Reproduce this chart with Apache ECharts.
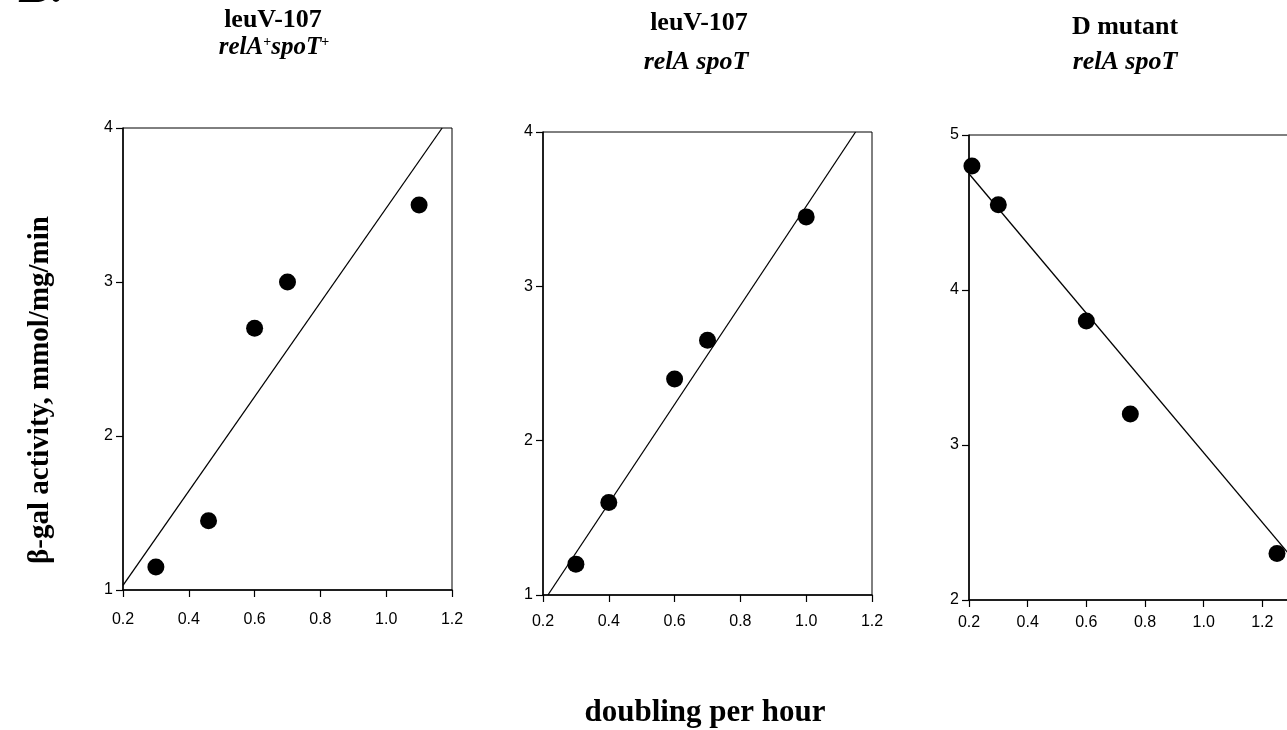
<!DOCTYPE html>
<html>
<head>
<meta charset="utf-8">
<script src="https://cdn.jsdelivr.net/npm/echarts@6/dist/echarts.min.js"></script>
<style>
  html, body { margin: 0; padding: 0; background: #fff; }
  #chart { width: 1287px; height: 730px; }
</style>
</head>
<body>
<div id="chart"></div>
<script>
// Axis ticks (x shared by the first two panels, y per panel)
const xTicks = [0.2, 0.4, 0.6, 0.8, 1.0, 1.2];
const xTicks3 = [0.2, 0.4, 0.6, 0.8, 1.0, 1.2, 1.4];
const yTicks1 = [1, 2, 3, 4];
const yTicks2 = [1, 2, 3, 4];
const yTicks3 = [2, 3, 4, 5];

// Panel 1: leuV-107 relA+ spoT+
const rate1 = [0.30, 0.46, 0.60, 0.70, 1.10];
const gal1 = [1.15, 1.45, 2.70, 3.00, 3.50];
const fitX1 = [0.20, 1.17];
const fitY1 = [1.03, 4.00];

// Panel 2: leuV-107 relA spoT
const rate2 = [0.30, 0.40, 0.60, 0.70, 1.00];
const gal2 = [1.20, 1.60, 2.40, 2.65, 3.45];
const fitX2 = [0.215, 1.15];
const fitY2 = [1.00, 4.00];

// Panel 3: D mutant relA spoT
const rate3 = [0.21, 0.30, 0.60, 0.75, 1.25];
const gal3 = [4.80, 4.55, 3.80, 3.20, 2.30];
const fitX3 = [0.20, 1.40];
const fitY3 = [4.75, 2.05];

const SERIF = '"Liberation Serif", "Times New Roman", serif';
const SANS = '"Liberation Sans", Arial, sans-serif';

const pairs = (xs, ys) => xs.map((x, i) => [x, ys[i]]);

const grids = [
  { left: 123, top: 128, width: 329, height: 462 },
  { left: 543, top: 132, width: 329, height: 463 },
  { left: 969, top: 135, width: 352, height: 465 }
].map(g => Object.assign(g, {
  show: true, borderColor: '#000', borderWidth: 1, backgroundColor: 'transparent',
  containLabel: false, outerBoundsMode: 'none'
}));

function xAxis(idx, ticks, margin) {
  return {
    type: 'value', gridIndex: idx,
    min: ticks[0], max: ticks[ticks.length - 1], interval: 0.2,
    splitLine: { show: false },
    axisLine: { show: true, onZero: false, lineStyle: { color: '#000', width: 1.5 } },
    axisTick: { show: true, length: 7, lineStyle: { color: '#000', width: 1.2 } },
    axisLabel: {
      color: '#000', fontFamily: SANS, fontSize: 16, margin,
      formatter: v => v.toFixed(1)
    }
  };
}

function yAxis(idx, ticks) {
  return {
    type: 'value', gridIndex: idx,
    min: ticks[0], max: ticks[ticks.length - 1], interval: 1,
    splitLine: { show: false },
    axisLine: { show: true, onZero: false, lineStyle: { color: '#000', width: 1.5 } },
    axisTick: { show: true, length: 7, lineStyle: { color: '#000', width: 1.2 } },
    axisLabel: { color: '#000', fontFamily: SANS, fontSize: 16, margin: 10 }
  };
}

function dots(idx, xs, ys) {
  return {
    type: 'scatter', xAxisIndex: idx, yAxisIndex: idx,
    data: pairs(xs, ys), symbol: 'circle', symbolSize: 17, clip: false,
    itemStyle: { color: '#000', opacity: 1 }, silent: true
  };
}

function fit(idx, xs, ys) {
  return {
    type: 'line', xAxisIndex: idx, yAxisIndex: idx,
    data: pairs(xs, ys), showSymbol: false, symbol: 'none', clip: true,
    lineStyle: { color: '#000', width: 1.3 }, silent: true
  };
}

const boldSerif = size => ({ fontFamily: SERIF, fontWeight: 'bold', fontSize: size, fill: '#000' });
const italicRich = size => ({
  i: { fontFamily: SERIF, fontWeight: 'bold', fontStyle: 'italic', fontSize: size, fill: '#000' },
  s: { fontFamily: SERIF, fontWeight: 'bold', fontSize: 14, fill: '#000', verticalAlign: 'top' }
});

function label(x, y, text, size) {
  return { type: 'text', x, y, silent: true,
    style: Object.assign({ text, align: 'center', verticalAlign: 'middle' }, boldSerif(size)) };
}
function italicLabel(x, y, text, size) {
  return { type: 'text', x, y, silent: true,
    style: { text, rich: italicRich(size), align: 'center', verticalAlign: 'middle',
      fontFamily: SERIF, fontWeight: 'bold', fontStyle: 'italic', fontSize: size, fill: '#000' } };
}

const chart = echarts.init(document.getElementById('chart'), null, { renderer: 'canvas' });
chart.setOption({
  backgroundColor: '#fff',
  animation: false,
  grid: grids,
  xAxis: [xAxis(0, xTicks, 22), xAxis(1, xTicks, 19), xAxis(2, xTicks3, 15)],
  yAxis: [yAxis(0, yTicks1), yAxis(1, yTicks2), yAxis(2, yTicks3)],
  series: [
    fit(0, fitX1, fitY1), dots(0, rate1, gal1),
    fit(1, fitX2, fitY2), dots(1, rate2, gal2),
    fit(2, fitX3, fitY3), dots(2, rate3, gal3)
  ],
  graphic: [
    { type: 'text', x: 18, y: -10, silent: true,
      style: Object.assign({ text: 'B.', align: 'left', verticalAlign: 'middle' }, boldSerif(48)) },
    label(273, 20, 'leuV-107', 26),
    italicLabel(274, 48, '{i|relA}{s|+}{i|spoT}{s|+}', 25),
    label(699, 23, 'leuV-107', 26),
    italicLabel(696, 62, '{i|relA spoT}', 26),
    label(1125, 27, 'D mutant', 26),
    italicLabel(1125, 62, '{i|relA spoT}', 26),
    label(705, 713, 'doubling per hour', 31),
    { type: 'text', x: 41, y: 390, rotation: Math.PI / 2, silent: true,
      style: Object.assign({ text: 'β-gal activity, mmol/mg/min', align: 'center', verticalAlign: 'middle' }, boldSerif(29)) }
  ]
});
</script>
</body>
</html>
